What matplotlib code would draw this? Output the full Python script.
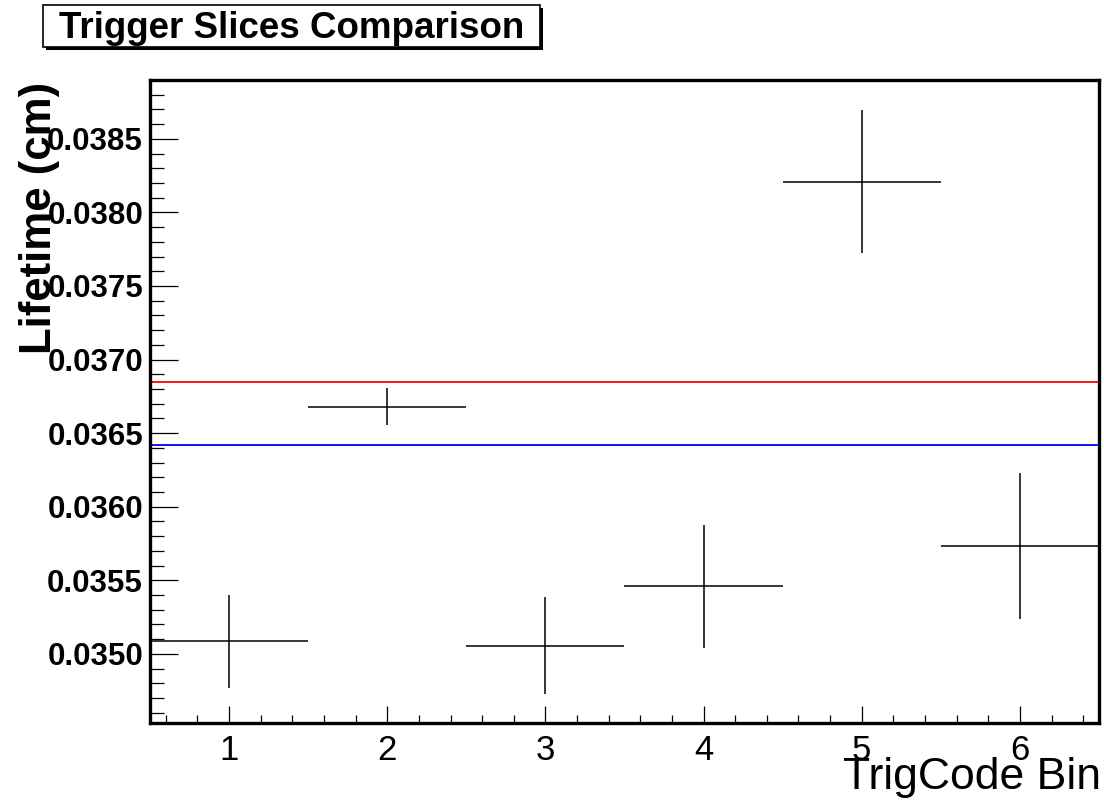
"""
Trigger slices comparison: lifetime per TrigCode bin, ROOT-style plot.
"""

import matplotlib
matplotlib.use('Agg')
import matplotlib.pyplot as plt
import matplotlib.patches as patches
from matplotlib.ticker import MultipleLocator, FormatStrFormatter

plt.rcParams['font.family'] = ['Liberation Sans', 'DejaVu Sans']

# data
trig_bins = [1, 2, 3, 4, 5, 6]
lifetime = [0.035084, 0.036678, 0.035056, 0.035458, 0.038210, 0.035734]
lifetime_err = [0.000317, 0.000126, 0.000331, 0.000421, 0.000485, 0.000498]
bin_halfwidth = [0.5, 0.5, 0.5, 0.5, 0.5, 0.5]
red_level = 0.03685
blue_level = 0.03642

fig = plt.figure(figsize=(11.04, 8), dpi=100)
fig.patch.set_facecolor('white')

W, H = 1104.0, 800.0
ax = fig.add_axes([150 / W, 1 - 723 / H, (1099 - 150) / W, (723 - 80) / H])

ax.errorbar(trig_bins, lifetime, xerr=bin_halfwidth, yerr=lifetime_err,
            fmt='none', ecolor='black', elinewidth=1.1, capsize=0)
ax.axhline(red_level, color='#ff0000', lw=1.3)
ax.axhline(blue_level, color='#0000ff', lw=1.3)

ax.set_xlim(0.5, 6.5)
ax.set_ylim(0.03453, 0.03890)

# ticks, ROOT style: inward, left/bottom only
ax.xaxis.set_major_locator(MultipleLocator(1))
ax.xaxis.set_minor_locator(MultipleLocator(0.2))
ax.yaxis.set_major_locator(MultipleLocator(0.0005))
ax.yaxis.set_minor_locator(MultipleLocator(0.0001))
ax.yaxis.set_major_formatter(FormatStrFormatter('%.4f'))

ax.tick_params(axis='x', which='major', direction='in', length=12.6, width=0.9,
               labelsize=25, pad=8)
ax.tick_params(axis='x', which='minor', direction='in', length=5.8, width=0.9)
ax.tick_params(axis='y', which='major', direction='in', length=20, width=0.9,
               labelsize=22.5, pad=5)
ax.tick_params(axis='y', which='minor', direction='in', length=10, width=0.9)
for lab in ax.get_yticklabels():
    lab.set_fontweight('bold')

for s in ax.spines.values():
    s.set_linewidth(2.4)

# axis titles
fig.text(1101 / W, 1 - 789 / H, 'TrigCode Bin', fontsize=32, ha='right', va='baseline')
fig.text(51 / W, 1 - 82 / H, 'Lifetime (cm)', fontsize=31.5, fontweight='bold',
         rotation=90, rotation_mode='anchor', ha='right', va='baseline')

# title box with shadow
bx0, bx1, by0, by1 = 43, 540, 5, 47
shadow = patches.Rectangle(((bx0 + 3) / W, 1 - (by1 + 3) / H), (bx1 - bx0) / W,
                           (by1 - by0) / H, transform=fig.transFigure,
                           facecolor='black', edgecolor='black', lw=0)
box = patches.Rectangle((bx0 / W, 1 - by1 / H), (bx1 - bx0) / W, (by1 - by0) / H,
                        transform=fig.transFigure, facecolor='white',
                        edgecolor='black', lw=1.2)
fig.add_artist(shadow)
fig.add_artist(box)
fig.text((bx0 + bx1) / 2 / W, 1 - 38 / H, 'Trigger Slices Comparison',
         fontsize=26.5, fontweight='bold', ha='center', va='baseline')

fig.savefig('out.png', dpi=100, facecolor='white')
